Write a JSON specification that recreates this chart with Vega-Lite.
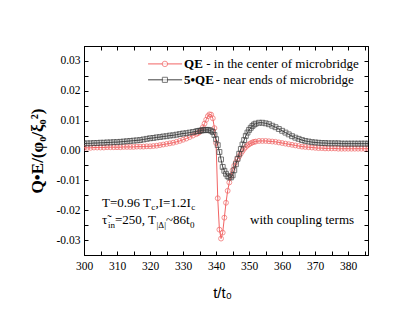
{
  "$schema": "https://vega.github.io/schema/vega-lite/v6.json",
  "width": 284,
  "height": 209,
  "autosize": "none",
  "padding": {"left": 84, "top": 46, "right": 47, "bottom": 70},
  "background": "white",
  "config": {
    "view": {"stroke": "black", "strokeWidth": 1},
    "axis": {"domainColor": "black", "tickColor": "black", "labelColor": "black", "titleColor": "black", "labelFont": "Times New Roman, Liberation Serif, serif", "labelFontSize": 11.5, "grid": false, "labelOverlap": false, "labelFlush": false, "labelBound": false}
  },
  "datasets": {
    "curves": [
      {"t":300,"qe":0.0009,"qe5":0.0023},{"t":301,"qe":0.0009,"qe5":0.0024},{"t":302,"qe":0.0009,"qe5":0.0024},{"t":303,"qe":0.0010,"qe5":0.0025},
      {"t":304,"qe":0.0010,"qe5":0.0025},{"t":305,"qe":0.0010,"qe5":0.0026},{"t":306,"qe":0.0010,"qe5":0.0026},{"t":307,"qe":0.0011,"qe5":0.0027},
      {"t":308,"qe":0.0011,"qe5":0.0027},{"t":309,"qe":0.0011,"qe5":0.0028},{"t":310,"qe":0.0011,"qe5":0.0028},{"t":311,"qe":0.0011,"qe5":0.0029},
      {"t":312,"qe":0.0012,"qe5":0.0030},{"t":313,"qe":0.0012,"qe5":0.0031},{"t":314,"qe":0.0012,"qe5":0.0032},{"t":315,"qe":0.0012,"qe5":0.0033},
      {"t":316,"qe":0.0013,"qe5":0.0034},{"t":317,"qe":0.0013,"qe5":0.0035},{"t":318,"qe":0.0013,"qe5":0.0037},{"t":319,"qe":0.0014,"qe5":0.0039},
      {"t":320,"qe":0.0014,"qe5":0.0041},{"t":321,"qe":0.0015,"qe5":0.0042},{"t":322,"qe":0.0016,"qe5":0.0044},{"t":323,"qe":0.0018,"qe5":0.0045},
      {"t":324,"qe":0.0020,"qe5":0.0047},{"t":325,"qe":0.0022,"qe5":0.0048},{"t":326,"qe":0.0024,"qe5":0.0050},{"t":327,"qe":0.0026,"qe5":0.0051},
      {"t":328,"qe":0.0029,"qe5":0.0053},{"t":329,"qe":0.0032,"qe5":0.0055},{"t":330,"qe":0.0036,"qe5":0.0057},{"t":331,"qe":0.0040,"qe5":0.0058},
      {"t":332,"qe":0.0045,"qe5":0.0060},{"t":333,"qe":0.0050,"qe5":0.0062},{"t":334,"qe":0.0055,"qe5":0.0064},{"t":334.5,"qe":0.0058,"qe5":0.0065},
      {"t":335,"qe":0.0062,"qe5":0.0066},{"t":335.5,"qe":0.0068,"qe5":0.0067},{"t":336,"qe":0.0078,"qe5":0.0068},{"t":336.5,"qe":0.0090,"qe5":0.0068},
      {"t":337,"qe":0.0103,"qe5":0.0069},{"t":337.5,"qe":0.0115,"qe5":0.0069},{"t":338,"qe":0.0121,"qe5":0.0068},{"t":338.5,"qe":0.0120,"qe5":0.0066},
      {"t":339,"qe":0.0108,"qe5":0.0062},{"t":339.5,"qe":0.0075,"qe5":0.0052},{"t":340,"qe":0.0025,"qe5":0.0038},{"t":340.5,"qe":-0.0160,"qe5":0.0018},
      {"t":341,"qe":-0.0265,"qe5":-0.0005},{"t":341.5,"qe":-0.0295,"qe5":-0.0030},{"t":342,"qe":-0.0275,"qe5":-0.0055},{"t":342.5,"qe":-0.0225,"qe5":-0.0068},
      {"t":343,"qe":-0.0175,"qe5":-0.0078},{"t":343.5,"qe":-0.0135,"qe5":-0.0086},{"t":344,"qe":-0.0107,"qe5":-0.0090},{"t":344.5,"qe":-0.0085,"qe5":-0.0090},
      {"t":345,"qe":-0.0066,"qe5":-0.0083},{"t":345.5,"qe":-0.0051,"qe5":-0.0066},{"t":346,"qe":-0.0039,"qe5":-0.0046},{"t":346.5,"qe":-0.0028,"qe5":-0.0028},
      {"t":347,"qe":-0.0019,"qe5":-0.0011},{"t":347.5,"qe":-0.0010,"qe5":0.0005},{"t":348,"qe":-0.0002,"qe5":0.0020},{"t":348.5,"qe":0.0006,"qe5":0.0035},
      {"t":349,"qe":0.0012,"qe5":0.0049},{"t":349.5,"qe":0.0017,"qe5":0.0060},{"t":350,"qe":0.0021,"qe5":0.0069},{"t":350.5,"qe":0.0024,"qe5":0.0076},
      {"t":351,"qe":0.0027,"qe5":0.0082},{"t":351.5,"qe":0.0029,"qe5":0.0087},{"t":352,"qe":0.0030,"qe5":0.0090},{"t":353,"qe":0.0032,"qe5":0.0093},
      {"t":354,"qe":0.0032,"qe5":0.0093},{"t":355,"qe":0.0032,"qe5":0.0091},{"t":356,"qe":0.0031,"qe5":0.0088},{"t":357,"qe":0.0030,"qe5":0.0083},
      {"t":358,"qe":0.0029,"qe5":0.0078},{"t":359,"qe":0.0027,"qe5":0.0072},{"t":360,"qe":0.0025,"qe5":0.0066},{"t":361,"qe":0.0023,"qe5":0.0060},
      {"t":362,"qe":0.0021,"qe5":0.0054},{"t":363,"qe":0.0019,"qe5":0.0048},{"t":364,"qe":0.0017,"qe5":0.0043},{"t":365,"qe":0.0015,"qe5":0.0039},
      {"t":366,"qe":0.0013,"qe5":0.0035},{"t":367,"qe":0.0012,"qe5":0.0032},{"t":368,"qe":0.0011,"qe5":0.0030},{"t":369,"qe":0.0010,"qe5":0.0028},
      {"t":370,"qe":0.0009,"qe5":0.0027},{"t":371,"qe":0.0008,"qe5":0.0026},{"t":372,"qe":0.0008,"qe5":0.0025},{"t":373,"qe":0.0007,"qe5":0.0025},
      {"t":374,"qe":0.0007,"qe5":0.0024},{"t":375,"qe":0.0007,"qe5":0.0024},{"t":376,"qe":0.0007,"qe5":0.0024},{"t":377,"qe":0.0006,"qe5":0.0024},
      {"t":378,"qe":0.0006,"qe5":0.0023},{"t":379,"qe":0.0006,"qe5":0.0023},{"t":380,"qe":0.0006,"qe5":0.0023},{"t":381,"qe":0.0006,"qe5":0.0023},
      {"t":382,"qe":0.0006,"qe5":0.0023},{"t":383,"qe":0.0006,"qe5":0.0023},{"t":384,"qe":0.0006,"qe5":0.0023},{"t":385,"qe":0.0006,"qe5":0.0023},
      {"t":386,"qe":0.0006,"qe5":0.0023}
    ]
  },
  "resolve": {"axis": {"x": "independent", "y": "independent"}},
  "layer": [
    {
      "mark": {"type": "rule", "color": "black", "strokeWidth": 1},
      "encoding": {"y": {"datum": 0, "type": "quantitative", "axis": null}}
    },
    {
      "data": {"name": "curves"},
      "mark": {"type": "line", "color": "#f26464", "strokeWidth": 1, "clip": true},
      "encoding": {
        "x": {"field": "t", "type": "quantitative", "scale": {"domain": [300, 386], "nice": false, "zero": false},
          "axis": {"orient": "bottom", "values": [300,305,310,315,320,325,330,335,340,345,350,355,360,365,370,375,380,385],
            "labelExpr": "datum.value % 10 === 0 ? datum.label : ''", "format": "d",
            "tickSize": -4, "labelPadding": 9, "title": "t/t₀", "titleFont": "Arial, Liberation Sans, sans-serif", "titleFontSize": 15, "titleFontWeight": "normal",
            "titleX": 138, "titleY": 37, "titleBaseline": "middle", "titleAlign": "center"}},
        "y": {"field": "qe", "type": "quantitative", "scale": {"domain": [-0.035, 0.035], "nice": false, "zero": false},
          "axis": {"orient": "left", "values": [-0.03,-0.025,-0.02,-0.015,-0.01,-0.005,0,0.005,0.01,0.015,0.02,0.025,0.03],
            "labelExpr": "abs(round(datum.value*1000)) % 10 === 0 ? replace(format(datum.value, '.2f'), '\u2212', '-') : ''",
            "tickSize": -4, "labelPadding": 8, "title": "Q•E/(φ₀/ξ₀²)", "titleFont": "Times New Roman, Liberation Serif, serif", "titleFontSize": 17, "titleFontWeight": "bold",
            "titleX": -47, "titleY": 104.5, "titleBaseline": "middle", "titleAlign": "center", "titleAngle": -90}}
      }
    },
    {
      "data": {"name": "curves"},
      "mark": {"type": "point", "shape": "circle", "filled": false, "color": "#f26464", "size": 24, "strokeWidth": 1, "clip": true},
      "encoding": {
        "x": {"field": "t", "type": "quantitative", "axis": null},
        "y": {"field": "qe", "type": "quantitative", "axis": null}
      }
    },
    {
      "data": {"name": "curves"},
      "mark": {"type": "line", "color": "#404040", "strokeWidth": 1, "clip": true},
      "encoding": {
        "x": {"field": "t", "type": "quantitative", "axis": null},
        "y": {"field": "qe5", "type": "quantitative", "axis": null}
      }
    },
    {
      "data": {"name": "curves"},
      "mark": {"type": "point", "shape": "square", "filled": false, "color": "#404040", "size": 24, "strokeWidth": 1, "clip": true},
      "encoding": {
        "x": {"field": "t", "type": "quantitative", "axis": null},
        "y": {"field": "qe5", "type": "quantitative", "axis": null}
      }
    },
    {
      "data": {"values": [{"t": 300, "v": 0}]},
      "mark": {"type": "point", "opacity": 0},
      "encoding": {
        "x": {"field": "t", "type": "quantitative", "axis": {"orient": "top", "values": [300,305,310,315,320,325,330,335,340,345,350,355,360,365,370,375,380,385], "labels": false, "tickSize": -4, "title": null}},
        "y": {"field": "v", "type": "quantitative", "axis": {"orient": "right", "values": [-0.03,-0.025,-0.02,-0.015,-0.01,-0.005,0,0.005,0.01,0.015,0.02,0.025,0.03], "labels": false, "tickSize": -4, "title": null}}
      }
    },
    {
      "data": {"values": [{"t": 319.4, "v": 0.029}, {"t": 329.7, "v": 0.029}]},
      "mark": {"type": "line", "color": "#f26464", "strokeWidth": 1},
      "encoding": {"x": {"field": "t", "type": "quantitative", "axis": null}, "y": {"field": "v", "type": "quantitative", "axis": null}}
    },
    {
      "data": {"values": [{"t": 324.5, "v": 0.029}]},
      "mark": {"type": "point", "shape": "circle", "filled": true, "fill": "white", "stroke": "#f26464", "size": 30, "strokeWidth": 1},
      "encoding": {"x": {"field": "t", "type": "quantitative", "axis": null}, "y": {"field": "v", "type": "quantitative", "axis": null}}
    },
    {
      "data": {"values": [{"t": 319.4, "v": 0.02367}, {"t": 329.7, "v": 0.02367}]},
      "mark": {"type": "line", "color": "#404040", "strokeWidth": 1},
      "encoding": {"x": {"field": "t", "type": "quantitative", "axis": null}, "y": {"field": "v", "type": "quantitative", "axis": null}}
    },
    {
      "data": {"values": [{"t": 324.5, "v": 0.02367}]},
      "mark": {"type": "point", "shape": "square", "filled": true, "fill": "white", "stroke": "#404040", "size": 26, "strokeWidth": 1},
      "encoding": {"x": {"field": "t", "type": "quantitative", "axis": null}, "y": {"field": "v", "type": "quantitative", "axis": null}}
    },
    {
      "data": {"values": [{"t": 330.3, "v": 0.02767, "label": "QE"}, {"t": 330.3, "v": 0.02233, "label": "5•QE"}]},
      "mark": {"type": "text", "align": "left", "baseline": "alphabetic", "font": "Times New Roman, Liberation Serif, serif", "fontSize": 13, "fontWeight": "bold", "color": "black"},
      "encoding": {"x": {"field": "t", "type": "quantitative", "axis": null}, "y": {"field": "v", "type": "quantitative", "axis": null}, "text": {"field": "label"}}
    },
    {
      "data": {"values": [{"t": 337.0, "v": 0.02767, "label": "- in the center of microbridge"}, {"t": 339.9, "v": 0.02233, "label": "- near ends of microbridge"}, {"t": 350.3, "v": -0.02467, "label": "with coupling terms"},
        {"t": 305.45, "v": -0.01877, "label": "T=0.96 T"}, {"t": 321.64, "v": -0.01877, "label": ",I=1.2I"},
        {"t": 305.45, "v": -0.02467, "label": "τ̃"}, {"t": 309.39, "v": -0.02467, "label": "=250, T"}, {"t": 324.85, "v": -0.02467, "label": "~86t"}]},
      "mark": {"type": "text", "align": "left", "baseline": "alphabetic", "font": "Times New Roman, Liberation Serif, serif", "fontSize": 13, "color": "black"},
      "encoding": {"x": {"field": "t", "type": "quantitative", "axis": null}, "y": {"field": "v", "type": "quantitative", "axis": null}, "text": {"field": "label"}}
    },
    {
      "data": {"values": [{"t": 320.36, "v": -0.0199, "label": "c"}, {"t": 332.45, "v": -0.0199, "label": "c"},
        {"t": 307.27, "v": -0.026, "label": "in"}, {"t": 321.97, "v": -0.026, "label": "|Δ|"}, {"t": 332.12, "v": -0.026, "label": "0"}]},
      "mark": {"type": "text", "align": "left", "baseline": "alphabetic", "font": "Times New Roman, Liberation Serif, serif", "fontSize": 9, "color": "black"},
      "encoding": {"x": {"field": "t", "type": "quantitative", "axis": null}, "y": {"field": "v", "type": "quantitative", "axis": null}, "text": {"field": "label"}}
    }
  ]
}
